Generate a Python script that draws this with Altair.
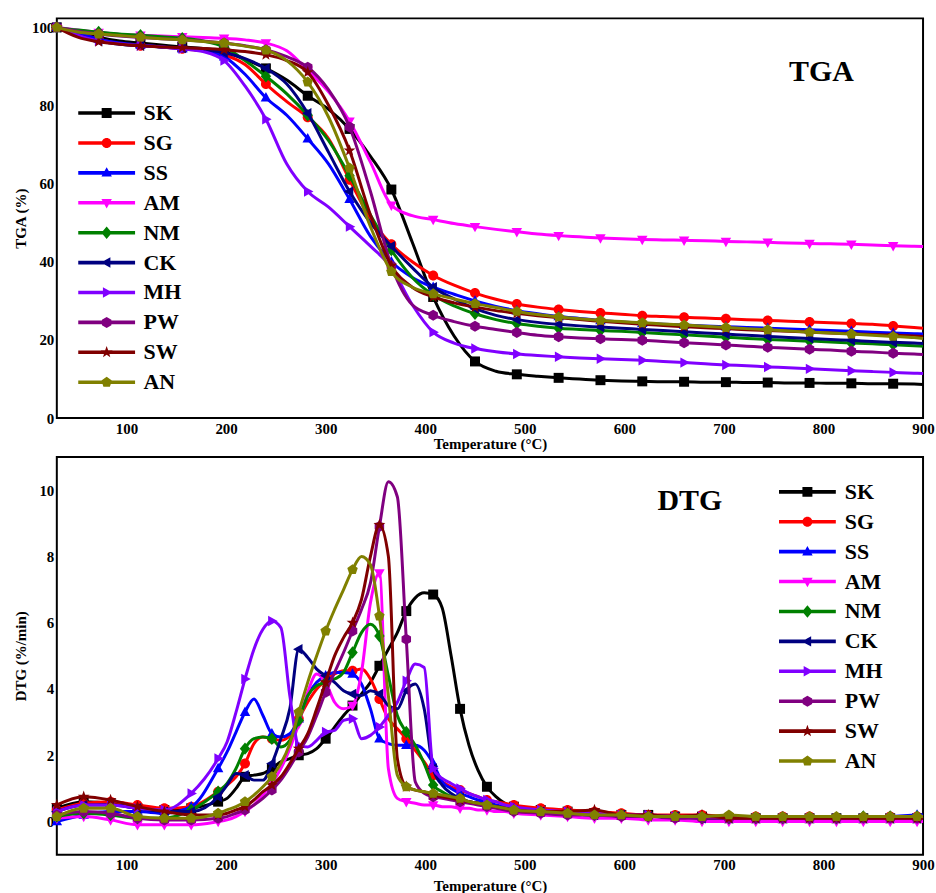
import altair as alt
import pandas as pd

series = ["SK", "SG", "SS", "AM", "NM", "CK", "MH", "PW", "SW", "AN"]
colors = ["#000000", "#ff0000", "#0000ff", "#ff00ff", "#008000",
          "#000080", "#8000ff", "#800080", "#800000", "#808000"]

x_ticks = [100, 200, 300, 400, 500, 600, 700, 800, 900]
tga_ticks = [0, 20, 40, 60, 80, 100]
dtg_ticks = [0, 2, 4, 6, 8, 10]

# ---------------- TGA (%) ----------------
tga_temp = [30, 51, 72, 93, 114, 135, 156, 177, 198, 219,
            240, 261, 282, 303, 324, 345, 366, 387, 408, 429,
            450, 471, 492, 513, 534, 555, 576, 597, 618, 639,
            660, 681, 702, 723, 744, 765, 786, 807, 828, 849,
            870, 891, 900]

tga_SK = [100, 99, 97.5, 96.5, 96, 95.5, 95, 94.6, 93.8, 91.8,
          89.5, 86.5, 82.5, 79, 74, 67, 58.5, 45, 31, 21,
          14.5, 12, 11.2, 10.7, 10.3, 10.0, 9.7, 9.5, 9.4, 9.3,
          9.3, 9.2, 9.2, 9.1, 9.1, 9.0, 9.0, 8.9, 8.9, 8.8,
          8.8, 8.7, 8.6]
tga_SG = [100, 98.5, 97, 95.8, 95.3, 95, 94.5, 94, 93, 90.5,
          85.5, 81, 77, 71.5, 61, 51, 44.5, 40, 36.5, 34,
          32, 30.4, 29.2, 28.4, 27.8, 27.3, 26.9, 26.6, 26.2, 26,
          25.8, 25.6, 25.4, 25.2, 25.0, 24.8, 24.6, 24.4, 24.2, 24.0,
          23.6, 23.2, 23.0]
tga_SS = [100, 98.5, 97, 96, 95.5, 95, 94.5, 94, 92.5, 88,
          82, 77.5, 71.5, 65, 56, 46.5, 40, 36, 33.5, 31.7,
          30, 28.6, 27.5, 26.7, 26, 25.5, 25, 24.6, 24.3, 24.0,
          23.8, 23.6, 23.4, 23.2, 23.0, 22.8, 22.6, 22.4, 22.2, 22.0,
          21.8, 21.6, 21.5]
tga_AM = [100, 99.3, 98.7, 98.2, 98, 97.8, 97.6, 97.4, 97.2, 96.8,
          96, 94, 89, 83.5, 76, 65.5, 54.5, 51.8, 50.8, 49.8,
          49, 48.3, 47.7, 47.1, 46.7, 46.4, 46.1, 45.9, 45.7, 45.6,
          45.5, 45.4, 45.2, 45.1, 45.0, 44.8, 44.7, 44.6, 44.5, 44.3,
          44.1, 44.0, 43.9]
tga_NM = [100, 99.3, 98.8, 98.3, 98, 97.6, 97.2, 96.5, 95, 91.5,
          87.5, 83, 77.5, 71, 62, 52, 43, 36, 31.5, 28.7,
          26.7, 25.2, 24.2, 23.5, 23.0, 22.7, 22.4, 22.2, 21.9, 21.6,
          21.3, 21.0, 20.7, 20.4, 20.1, 19.9, 19.7, 19.5, 19.2, 19.0,
          18.8, 18.5, 18.4]
tga_CK = [100, 98, 96.5, 95.7, 95.3, 95, 94.7, 94.3, 93.5, 92,
          89.5, 85.5, 78, 68, 58, 50, 44, 38.5, 33.5, 30.5,
          28, 26.3, 25.2, 24.5, 24.0, 23.6, 23.3, 23.0, 22.7, 22.4,
          22.1, 21.8, 21.5, 21.2, 20.9, 20.6, 20.4, 20.1, 19.9, 19.6,
          19.4, 19.2, 19.1]
tga_MH = [100, 98, 96.5, 95.8, 95.3, 95, 94.5, 93.8, 91.5, 85,
          76.5, 65, 58, 54, 49, 44, 38.5, 29, 22, 19.2,
          17.8, 17, 16.4, 16, 15.7, 15.4, 15.2, 15.0, 14.8, 14.5,
          14.2, 13.9, 13.6, 13.4, 13.1, 12.9, 12.6, 12.4, 12.1, 11.9,
          11.7, 11.5, 11.4]
tga_PW = [100, 99, 98.3, 97.8, 97.4, 97.1, 96.8, 96.5, 96, 95.3,
          94.3, 92.5, 89.8, 84, 74.5, 58, 39, 29, 26.3, 24.7,
          23.5, 22.7, 21.9, 21.2, 20.8, 20.5, 20.3, 20.1, 19.9, 19.6,
          19.3, 19.0, 18.7, 18.4, 18.1, 17.9, 17.6, 17.4, 17.1, 16.9,
          16.6, 16.4, 16.3]
tga_SW = [100, 97.5, 96.3, 95.7, 95.3, 95, 94.8, 94.6, 94.3, 93.8,
          93, 91.5, 88.5, 80, 68.5, 52, 39, 33.5, 31, 29.5,
          28.4, 27.5, 26.8, 26.2, 25.7, 25.2, 24.8, 24.4, 24.0, 23.7,
          23.4, 23.1, 22.9, 22.6, 22.4, 22.2, 22.0, 21.8, 21.6, 21.4,
          21.2, 21.0, 20.9]
tga_AN = [100, 98.8, 98.3, 97.9, 97.5, 97.1, 96.8, 96.4, 96, 95.2,
          94.2, 91.5, 86, 77, 64, 49, 37.5, 33.5, 31.8, 30.5,
          29.3, 28.3, 27.3, 26.5, 25.9, 25.4, 25.0, 24.7, 24.4, 24.1,
          23.8, 23.5, 23.2, 22.9, 22.6, 22.3, 22.0, 21.8, 21.5, 21.2,
          20.9, 20.6, 20.4]

# ---------------- DTG (%/min) ----------------
dtg_temp = [30, 57, 84, 111, 138, 165,
            192, 201, 210, 219, 228, 237, 246, 255, 264, 273,
            282, 291, 300, 309, 318, 327, 336, 345, 354, 363,
            372, 381, 390, 399, 408, 417, 426, 435, 444, 453,
            462, 471, 480, 489,
            516, 543, 570, 597, 624, 651, 678, 705, 732, 759,
            786, 813, 840, 867, 894, 900]

dtg_SK = [0.4, 0.6, 0.55, 0.4, 0.35, 0.4,
          0.6, 0.7, 1.0, 1.35, 1.4, 1.45, 1.6, 1.8, 1.9, 2.0,
          2.05, 2.2, 2.5, 2.85, 3.2, 3.5, 3.85, 4.2, 4.7, 5.2,
          5.7, 6.35, 6.75, 6.9, 6.85, 6.45, 5.0, 3.4, 2.3, 1.55,
          1.05, 0.75, 0.55, 0.45,
          0.35, 0.3, 0.25, 0.2, 0.2, 0.15, 0.15, 0.1, 0.1, 0.1,
          0.1, 0.1, 0.1, 0.1, 0.1, 0.1]
dtg_SG = [0.35, 0.55, 0.6, 0.5, 0.4, 0.45,
          0.9, 1.1, 1.35, 1.75, 2.35, 2.55, 2.5, 2.45, 2.6, 3.1,
          3.6, 4.0, 4.25, 4.45, 4.55, 4.55, 4.6, 4.3, 3.7, 3.1,
          2.8, 2.5, 2.15, 1.8, 1.4, 1.2, 1.05, 0.95, 0.85, 0.75,
          0.65, 0.6, 0.55, 0.5,
          0.4, 0.35, 0.3, 0.25, 0.2, 0.2, 0.2, 0.15, 0.15, 0.15,
          0.15, 0.1, 0.1, 0.15, 0.15, 0.15]
dtg_SS = [0.0, 0.2, 0.3, 0.3, 0.25, 0.45,
          1.6, 2.1, 2.7, 3.3, 3.7, 3.2, 2.65, 2.55, 2.65, 3.1,
          3.8, 4.2, 4.4, 4.5, 4.5, 4.45, 4.15, 3.4, 2.5, 2.35,
          2.3, 2.3, 2.3, 2.15, 1.75, 1.2, 1.0, 0.85, 0.75, 0.65,
          0.6, 0.5, 0.45, 0.4,
          0.3, 0.25, 0.2, 0.2, 0.15, 0.15, 0.15, 0.1, 0.1, 0.15,
          0.1, 0.1, 0.15, 0.15, 0.2, 0.2]
dtg_AM = [0.1, 0.15, 0.05, -0.1, -0.1, -0.1,
          0.0, 0.05, 0.15, 0.3, 0.5, 0.8, 1.15, 1.6, 2.2, 2.95,
          3.9, 4.45, 4.2, 3.6, 3.4, 3.5, 4.5, 6.6, 7.5, 1.6,
          0.7, 0.6, 0.55, 0.5, 0.5, 0.45, 0.45, 0.4, 0.4, 0.35,
          0.35, 0.3, 0.3, 0.25,
          0.2, 0.15, 0.1, 0.1, 0.05, 0.05, 0.0, 0.0, 0.0, 0.0,
          0.0, 0.0, 0.0, 0.0, 0.0, 0.0]
dtg_NM = [0.15, 0.25, 0.2, 0.1, 0.1, 0.35,
          0.9, 1.15, 1.6, 2.2, 2.5, 2.55, 2.5, 2.25, 2.45, 3.05,
          3.8, 4.1, 4.2, 4.3, 4.5, 5.1, 5.7, 5.95, 5.6, 4.4,
          3.2, 2.7, 2.3, 1.75, 1.1, 0.9, 0.75, 0.65, 0.6, 0.55,
          0.5, 0.45, 0.4, 0.35,
          0.3, 0.25, 0.2, 0.2, 0.15, 0.15, 0.1, 0.1, 0.1, 0.1,
          0.1, 0.1, 0.15, 0.15, 0.15, 0.15]
dtg_CK = [0.3, 0.5, 0.5, 0.4, 0.3, 0.3,
          0.75, 1.1, 1.45, 1.4, 1.25, 1.25, 1.75, 2.5, 3.4, 5.2,
          4.95, 4.6, 4.4, 4.2, 3.95, 3.85, 3.8, 3.95, 3.85, 3.5,
          3.4, 3.95, 4.15, 3.4, 1.6, 1.1, 0.85, 0.7, 0.6, 0.55,
          0.5, 0.45, 0.4, 0.35,
          0.3, 0.25, 0.2, 0.2, 0.15, 0.15, 0.1, 0.1, 0.1, 0.1,
          0.1, 0.1, 0.1, 0.1, 0.1, 0.1]
dtg_MH = [0.3, 0.5, 0.5, 0.4, 0.35, 0.85,
          1.9, 2.4, 3.3, 4.3, 5.2, 5.8, 6.05, 5.85, 3.8, 2.3,
          2.25, 2.45, 2.7, 2.75, 3.05, 3.1, 2.5, 2.6, 2.85, 3.2,
          3.6, 4.25, 4.75, 4.65, 1.6, 1.3, 1.15, 1.0, 0.85, 0.75,
          0.65, 0.6, 0.5, 0.45,
          0.35, 0.3, 0.25, 0.2, 0.2, 0.15, 0.15, 0.1, 0.1, 0.1,
          0.1, 0.1, 0.1, 0.1, 0.1, 0.1]
dtg_PW = [0.2, 0.3, 0.25, 0.1, 0.05, 0.05,
          0.1, 0.15, 0.25, 0.35, 0.5, 0.7, 0.95, 1.25, 1.65, 2.1,
          2.55, 3.2, 3.9, 4.5, 5.1, 5.75, 6.4, 7.2, 8.9, 10.25,
          9.8, 5.5, 1.2, 0.85, 0.75, 0.7, 0.65, 0.6, 0.55, 0.5,
          0.45, 0.4, 0.35, 0.3,
          0.25, 0.2, 0.2, 0.15, 0.15, 0.1, 0.1, 0.1, 0.1, 0.1,
          0.1, 0.1, 0.1, 0.1, 0.1, 0.1]
dtg_SW = [0.5, 0.75, 0.65, 0.45, 0.3, 0.2,
          0.2, 0.25, 0.35, 0.45, 0.65, 0.9, 1.1, 1.35, 1.75, 2.2,
          2.65, 3.4, 4.2, 5.0, 5.55, 6.0, 6.7, 8.0, 8.95, 8.0,
          1.9, 1.05, 0.95, 0.9, 0.8, 0.75, 0.7, 0.65, 0.6, 0.55,
          0.5, 0.45, 0.4, 0.35,
          0.3, 0.3, 0.35, 0.2, 0.2, 0.15, 0.2, 0.1, 0.1, 0.1,
          0.1, 0.1, 0.1, 0.1, 0.1, 0.1]
dtg_AN = [0.15, 0.4, 0.4, 0.15, 0.1, 0.1,
          0.25, 0.35, 0.45, 0.6, 0.8, 1.05, 1.35, 1.75, 2.35, 3.3,
          4.2, 5.0, 5.75, 6.4, 7.0, 7.6, 8.0, 7.75, 6.2, 3.8,
          1.4, 1.05, 0.95, 0.9, 0.85, 0.8, 0.75, 0.7, 0.6, 0.55,
          0.5, 0.45, 0.4, 0.35,
          0.3, 0.25, 0.2, 0.2, 0.15, 0.15, 0.15, 0.2, 0.15, 0.15,
          0.15, 0.15, 0.15, 0.15, 0.15, 0.15]

tga_values = [tga_SK, tga_SG, tga_SS, tga_AM, tga_NM, tga_CK, tga_MH, tga_PW, tga_SW, tga_AN]
dtg_values = [dtg_SK, dtg_SG, dtg_SS, dtg_AM, dtg_NM, dtg_CK, dtg_MH, dtg_PW, dtg_SW, dtg_AN]

# ---------------- marker shapes (unit symbol paths) ----------------
marker_paths = [
    "M-1,-1H1V1H-1Z",                                            # square
    "M-1,0A1,1 0 1,1 1,0A1,1 0 1,1 -1,0Z",                       # circle
    "M0,-1.15L1.05,0.75L-1.05,0.75Z",                            # triangle up
    "M-1.05,-0.75L1.05,-0.75L0,1.15Z",                           # triangle down
    "M0,-1.25L1.05,0L0,1.25L-1.05,0Z",                           # diamond
    "M-1.15,0L0.75,-1.05L0.75,1.05Z",                            # triangle left
    "M1.15,0L-0.75,1.05L-0.75,-1.05Z",                           # triangle right
    "M0,-1.1L0.95,-0.55L0.95,0.55L0,1.1L-0.95,0.55L-0.95,-0.55Z",  # hexagon
    "M0,-1.25L0.3,-0.41L1.19,-0.39L0.49,0.16L0.73,1.01L0,0.51L-0.73,1.01"
    "L-0.49,0.16L-1.19,-0.39L-0.3,-0.41Z",                       # star
    "M0,-1.1L1.05,-0.34L0.65,0.89L-0.65,0.89L-1.05,-0.34Z",      # pentagon
]
legend_line = "M-5.7,-0.36H5.7V0.36H-5.7Z "
legend_paths = [legend_line + p for p in marker_paths]

FONT = "Liberation Serif"


def build_df(temps, values, step):
    rows = []
    for s, vals in zip(series, values):
        for t, v in zip(temps, vals):
            rows.append({"series": s, "T": t, "v": v,
                         "marker": bool((t - 30) % step == 0)})
    return pd.DataFrame(rows)


def panel(df, ydom, yticks, ytitle, title_y, label, label_xy, leg_xy, leg_offset, height):
    x = alt.X("T:Q", scale=alt.Scale(domain=[30, 900], nice=False, zero=False),
              axis=alt.Axis(values=x_ticks, title="Temperature (°C)", ticks=False,
                            domain=False, grid=False, labelFlush=False,
                            labelFont=FONT, labelFontWeight="bold", labelFontSize=15,
                            labelColor="black", labelPadding=3,
                            titleFont=FONT, titleFontWeight="bold", titleFontSize=15,
                            titleColor="black", titleY=title_y, titleBaseline="middle"))
    y = alt.Y("v:Q", scale=alt.Scale(domain=ydom, nice=False, zero=False),
              axis=alt.Axis(values=yticks, title=ytitle, ticks=False, domain=False,
                            grid=False, labelFont=FONT, labelFontWeight="bold",
                            labelFontSize=15, labelColor="black", labelPadding=3,
                            titleFont=FONT, titleFontWeight="bold", titleFontSize=15,
                            titleColor="black", titlePadding=6,
                            minExtent=22, maxExtent=22))
    layers = []
    for s, c, shp in zip(series, colors, marker_paths):
        line = alt.Chart(df).transform_filter(alt.datum.series == s).mark_line(
            interpolate="monotone", strokeWidth=3, color=c).encode(x=x, y=y)
        pts = alt.Chart(df).transform_filter(
            (alt.datum.series == s) & alt.datum.marker).mark_point(
            shape=shp, filled=True, size=100, opacity=1, color=c).encode(x=x, y=y)
        layers += [line, pts]
    leg = alt.Legend(orient="none", legendX=leg_xy[0], legendY=leg_xy[1], title=None,
                     labelFont=FONT, labelFontWeight="bold", labelFontSize=22,
                     labelColor="black", symbolSize=100, symbolStrokeWidth=0,
                     symbolOpacity=1, labelOffset=leg_offset, rowPadding=8, padding=0)
    legend_layer = alt.Chart(df).transform_filter(alt.datum.T < 0).mark_point(
        filled=True, size=100, opacity=1).encode(
        x=x, y=y,
        color=alt.Color("series:N", scale=alt.Scale(domain=series, range=colors), legend=leg),
        shape=alt.Shape("series:N", scale=alt.Scale(domain=series, range=legend_paths),
                        legend=leg))
    text = alt.Chart(pd.DataFrame({"t": [label]})).mark_text(
        font=FONT, fontWeight="bold", fontSize=30, color="black",
        align="center", baseline="middle").encode(
        x=alt.value(label_xy[0]), y=alt.value(label_xy[1]), text="t:N")
    return alt.layer(*layers, legend_layer, text).properties(width=869, height=height)


tga_df = build_df(tga_temp, tga_values, 42)
dtg_df = build_df(dtg_temp, dtg_values, 27)

top = panel(tga_df, [0, 102.3], tga_ticks, "TGA (%)", 26, "TGA", (767, 54),
            (39, 84), 26, 401)
bottom = panel(dtg_df, [-1, 11], dtg_ticks, "DTG (%/min)", 31, "DTG", (635, 44),
               (742, 24), 26.5, 399)

chart = alt.vconcat(top, bottom, spacing=3).resolve_scale(
    color="independent", shape="independent"
).properties(
    padding={"left": 13, "top": 16, "right": 0, "bottom": 0}
).configure_view(stroke="black", strokeWidth=2)

chart.save("out.html", embed_options={"renderer": "svg", "actions": False})
